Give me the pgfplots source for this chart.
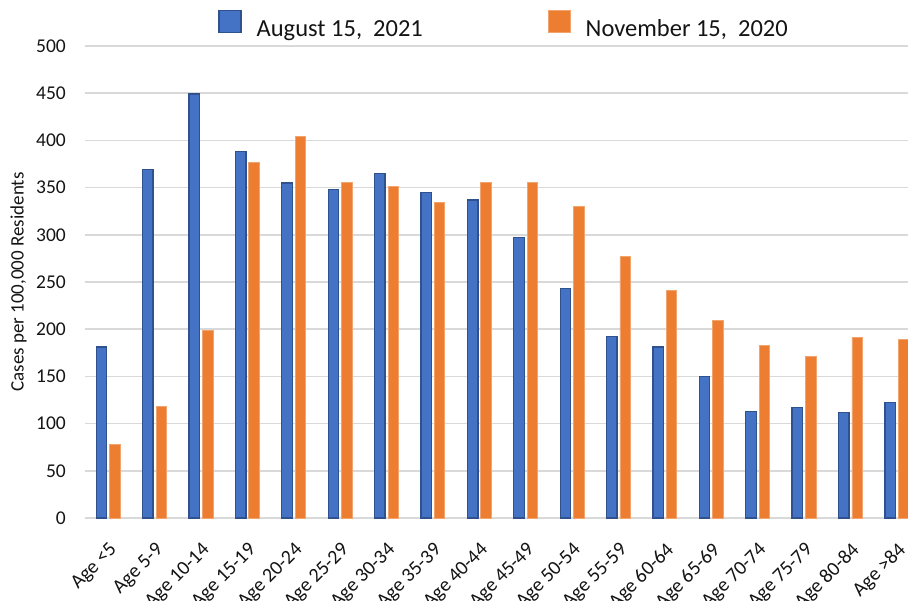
\documentclass[border=0pt]{standalone}
\usepackage{pgfplots}
\pgfplotsset{compat=1.18}
\usepackage{fontspec}
\setmainfont{Carlito}
\definecolor{cblue}{HTML}{4472C4}
\definecolor{cblueedge}{HTML}{2F528F}
\definecolor{corange}{HTML}{ED7D31}
\definecolor{cgrid}{HTML}{D9D9D9}
\definecolor{ctxt}{HTML}{141414}
\begin{document}
\begin{tikzpicture}
\begin{axis}[
  at={(0,0)}, anchor=south west,
  scale only axis, width=823pt, height=472pt,
  xmin=-0.5, xmax=17.24, ymin=0, ymax=500,
  ybar=2.9pt, bar width=10.5pt,
  axis line style={draw=none},
  tick style={draw=none},
  ymajorgrids, grid style={cgrid, line width=1.5pt},
  ytick={0,50,...,500},
  xtick={0,...,17},
  xticklabels={Age <5,Age 5-9,Age 10-14,Age 15-19,Age 20-24,Age 25-29,Age 30-34,Age 35-39,Age 40-44,Age 45-49,Age 50-54,Age 55-59,Age 60-64,Age 65-69,Age 70-74,Age 75-79,Age 80-84,Age >84},
  /pgf/number format/assume math mode=true,
  ticklabel style={font=\fontsize{19.5}{23}\selectfont, text=ctxt},
  yticklabel style={inner sep=0pt, xshift=-19pt},
  xticklabel style={rotate=45, anchor=north east, inner sep=0pt, font=\fontsize{20}{24}\selectfont},
  xticklabel shift=19pt,
  ylabel={Cases per 100,000 Residents},
  every axis y label/.style={at={(rel axis cs:0,0.5)}, xshift=-66.5pt, rotate=90, anchor=center, font=\fontsize{19}{22}\selectfont, text=ctxt},
  legend columns=2,
  legend style={at={(0.508,1)}, anchor=center, yshift=22pt, draw=none, fill=none,
    font=\fontsize{24.5}{28}\selectfont, text=ctxt,
    nodes={inner sep=0pt},
    /tikz/column 1/.style={column sep=15pt},
    /tikz/column 2/.style={column sep=125pt},
    /tikz/column 3/.style={column sep=15pt}},
  legend image code/.code={\draw[#1] (0pt,-3pt) rectangle (22pt,19pt);},
]
\addplot[fill=cblue, draw=cblueedge, line width=1.3pt] coordinates {
(0,181) (1,369) (2,449) (3,388) (4,355) (5,348) (6,365) (7,345) (8,337)
(9,297) (10,243) (11,192) (12,181) (13,150) (14,113) (15,117) (16,112) (17,122)};
\addplot[fill=corange, draw=corange!70!white, line width=0.8pt] coordinates {
(0,78) (1,118) (2,199) (3,377) (4,404) (5,355) (6,351) (7,334) (8,355)
(9,355) (10,330) (11,277) (12,241) (13,209) (14,183) (15,171) (16,191) (17,189)};
\legend{{August 15,\ \ 2021}, {November 15,\ \ 2020}}
\end{axis}
\pgfresetboundingbox
\path (-85pt,-82pt) rectangle (823pt,518pt);
\end{tikzpicture}
\end{document}
